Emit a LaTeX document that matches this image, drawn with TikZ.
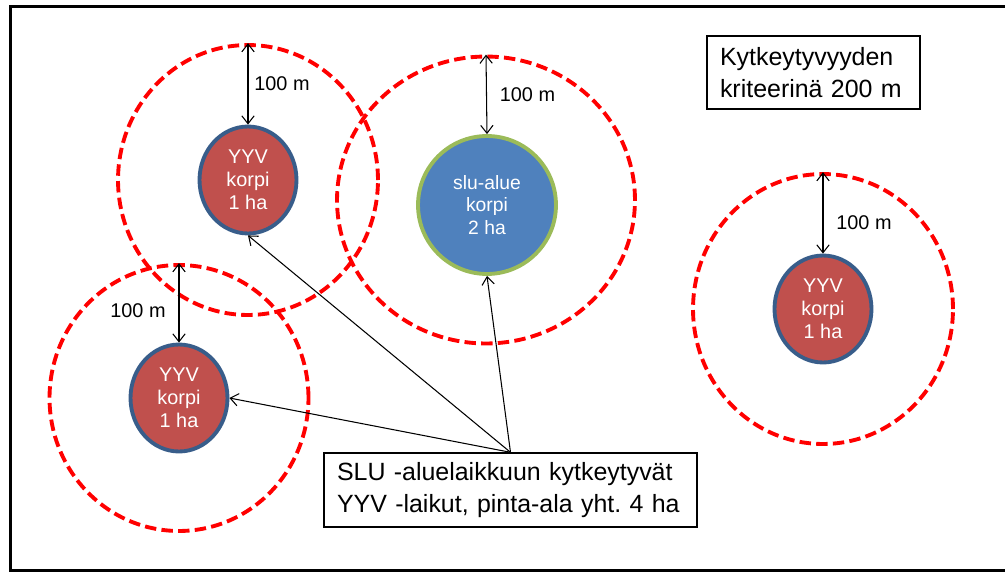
\documentclass[tikz,border=0pt]{standalone}
\usepackage{fontspec}
\setmainfont{Liberation Sans}
\usetikzlibrary{arrows.meta,shapes.geometric}

\definecolor{patchred}{HTML}{C0504D}
\definecolor{patchrim}{HTML}{385D8A}
\definecolor{slublue}{HTML}{4F81BD}
\definecolor{slurim}{HTML}{9BBB59}

\begin{document}
\begin{tikzpicture}[x=0.02cm,y=-0.02cm,>={Straight Barb[length=4.5pt,width=7pt]},
    yyv node/.style={ellipse,draw=patchrim,fill=patchred,line width=2.2pt,minimum width=1.94cm,
                     minimum height=2.14cm,inner sep=0pt,text=white,align=center,font=\fontsize{11.3}{13}\selectfont},
    slu node/.style={circle,draw=slurim,fill=slublue,line width=2.2pt,minimum size=2.76cm,
                     inner sep=0pt,text=white,align=center,font=\fontsize{11}{13}\selectfont},
    ring/.style={ellipse,draw=red,dash pattern=on 6.5pt off 3pt,line width=2.2pt,
                 minimum width=5.2cm,minimum height=5.4cm,inner sep=0pt},
    info box/.style={draw,line width=0.8pt,align=left,inner xsep=0.26cm,font=\fontsize{14.2}{17.8}\selectfont},
    dist/.style={<->,line width=0.6pt},
    pointer/.style={->,line width=0.6pt}]

  \useasboundingbox (0,0) rectangle (1005,572);
  \draw[line width=2pt] (10.3,6.5) rectangle (1020,570.5);

  % patches
  \node[yyv node] (yyv1) at (248,180) {YYV\\korpi\\1 ha};
  \node[yyv node] (yyv2) at (179,398) {YYV\\korpi\\1 ha};
  \node[yyv node] (yyv3) at (823,309) {YYV\\korpi\\1 ha};
  \node[slu node] (slu) at (487,205) {slu-alue\\korpi\\2 ha};

  % 100 m zones
  \node[ring] (ring1) at (yyv1) {};
  \node[ring,minimum width=5.18cm,minimum height=5.32cm] (ring2) at (yyv2) {};
  \node[ring] (ring3) at (yyv3) {};
  \node[ring,minimum width=5.96cm,minimum height=5.74cm] (ring0) at (486,200) {};

  % text boxes
  \node[info box,text width=3.74cm,minimum height=1.46cm] (crit) at (813.5,72.5)
    {Kytkeytyvyyden\\kriteerinä 200 m};
  \node[info box,text width=6.94cm,minimum height=1.48cm] (sum) at (510.5,490)
    {SLU -aluelaikkuun kytkeytyvät\\YYV -laikut, pinta-ala yht.\ 4 ha};

  \path[dist,every node/.style={font=\fontsize{11.3}{13}\selectfont}]
    (ring1.north) edge node[right] (d1) {100 m} (yyv1.north)
    (ring0.north) edge node[right,xshift=4pt] (d0) {100 m} (slu.north)
    (ring2.north) edge node[left,pos=.6,xshift=-4pt] (d2) {100 m} (yyv2.north)
    (ring3.north) edge node[right,pos=.62,xshift=4pt] (d3) {100 m} (yyv3.north);

  \path[pointer]
    (sum.north) edge (yyv1.south)
    (sum.north) edge (yyv2.east)
    (sum.north) edge (slu.south);
\end{tikzpicture}
\end{document}
